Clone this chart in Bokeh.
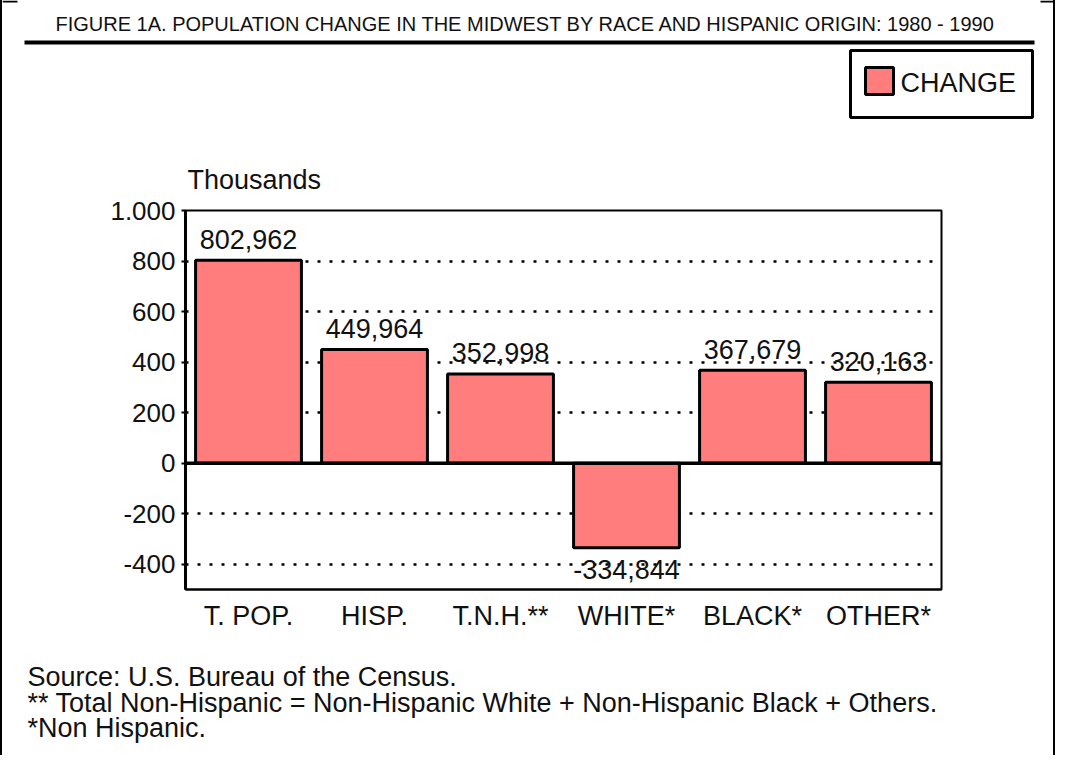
from bokeh.plotting import figure
from bokeh.models import (ColumnDataSource, FixedTicker, Span, Label, BoxAnnotation,
                          FactorRange, Range1d, Div)
from bokeh.layouts import column, row
from bokeh.embed import file_html
from bokeh.resources import INLINE
from bokeh.core.properties import value
import numpy as np

# ---------------- data ----------------
categories = ["T. POP.", "HISP.", "T.N.H.**", "WHITE*", "BLACK*", "OTHER*"]
change = [802.962, 449.964, 352.998, -334.844, 367.679, 320.163]   # thousands
y_ticks = [-400, -200, 0, 200, 400, 600, 800, 1000]
y_tick_labels = ["-400", "-200", "0", "200", "400", "600", "800", "1.000"]
grid_ticks = [-400, -200, 200, 400, 600, 800]
series_name = "CHANGE"
title_text = "FIGURE 1A.  POPULATION CHANGE IN THE MIDWEST BY RACE AND HISPANIC ORIGIN: 1980 - 1990"
y_label = "Thousands"
footnotes = [
    "Source: U.S. Bureau of the Census.",
    "** Total Non-Hispanic = Non-Hispanic White + Non-Hispanic Black + Others.",
    "*Non Hispanic.",
]

FONT = "Liberation Sans"
TXT = "#111111"
BAR_FILL = "#ff7d7d"

W = 1051            # width of each figure (page x 10 .. 1061)
HA, HB, HC = 195, 457, 103


def plain_fig(h):
    f = figure(width=W, height=h, x_range=Range1d(0, W), y_range=Range1d(h, 0),
               x_axis_type=None, y_axis_type=None, title=None,
               output_backend="svg", toolbar_location=None, min_border=0,
               frame_align=False)
    f.outline_line_color = None
    f.grid.visible = False
    f.background_fill_color = "white"
    f.border_fill_color = "white"
    return f


def box(f, x0, x1, y0, y1, fill="black", line=None, lw=1):
    f.add_layout(BoxAnnotation(left=x0, right=x1, top=y0, bottom=y1,
                               fill_color=fill, fill_alpha=1,
                               line_color=line, line_alpha=1, line_width=lw))


def text(f, x, y, s, size, align="left"):
    f.add_layout(Label(x=x, y=y, text=s, text_align=align,
                       text_baseline="middle", text_font=FONT,
                       text_font_size=size, text_color=TXT))


# ---------------- header ----------------
A = plain_fig(HA)
text(A, 526, 23, title_text, "20px", "center")
box(A, 22, 1032, 40, 44)           # rule under title
box(A, 0, 15, 0, 2)                # corner marks
box(A, W - 13, W, 0, 2)
text(A, 185, 179, y_label, "27px")
# legend key
box(A, 848, 1030, 50, 117, fill="white", line="black", lw=3)
box(A, 863, 891, 67, 94, fill=BAR_FILL, line="black", lw=3)
text(A, 898, 82, series_name, "27px")

# ---------------- chart ----------------
FL, FR = 183, 939
TOP, FRAME_H = 15, 379
vals = np.array(change)
src = ColumnDataSource(dict(
    cat=categories,
    val=change,
    lab=[f"{v * 1000:,.0f}" for v in change],
    yoff=np.where(vals >= 0, -21, 22).tolist(),
))

B = figure(x_range=FactorRange(*categories), y_range=(-500, 1000),
           width=W, height=HB, output_backend="svg", toolbar_location=None,
           title=None, min_border_left=FL, min_border_right=W - FR,
           min_border_top=TOP, min_border_bottom=HB - TOP - FRAME_H,
           frame_align=False)
B.x_range.range_padding = 0
B.outline_line_color = "black"
B.outline_line_width = 2
B.background_fill_color = "white"
B.border_fill_color = "white"

B.xgrid.visible = False
B.ygrid.ticker = FixedTicker(ticks=grid_ticks)
B.ygrid.grid_line_color = "black"
B.ygrid.grid_line_width = 2.5
B.ygrid.grid_line_dash = "3 9"

B.yaxis.ticker = FixedTicker(ticks=y_ticks)
B.yaxis.major_label_overrides = {t: l for t, l in zip(y_ticks, y_tick_labels)}
B.yaxis.minor_tick_line_color = None
B.yaxis.major_tick_out = 4
B.yaxis.major_tick_in = 0
B.yaxis.major_tick_line_width = 2
B.yaxis.axis_line_width = 3
B.yaxis.axis_line_color = "black"
B.yaxis.major_label_standoff = 6
B.yaxis.major_label_text_font = FONT
B.yaxis.major_label_text_font_size = "26px"
B.yaxis.major_label_text_color = TXT

B.xaxis.major_tick_line_color = None
B.xaxis.minor_tick_line_color = None
B.xaxis.axis_line_color = "black"
B.xaxis.axis_line_width = 2
B.xaxis.major_label_standoff = 5
B.xaxis.major_label_text_font = FONT
B.xaxis.major_label_text_font_size = "27px"
B.xaxis.major_label_text_color = TXT

B.vbar(x="cat", top="val", bottom=0, width=0.84, source=src,
       fill_color=BAR_FILL, line_color="black", line_width=3)
B.add_layout(Span(location=0, dimension="width", line_color="black", line_width=3.5))
B.text(x="cat", y="val", text="lab", source=src, text_align="center",
       text_baseline="middle", y_offset="yoff",
       text_font=value(FONT), text_font_size="27px", text_color=TXT)

# ---------------- footer ----------------
C = plain_fig(HC)
for txt, cy in zip(footnotes, [24.5, 50, 75.5]):
    text(C, 25, cy, txt, "27px")

# page side borders
left_edge = Div(width=2, height=HA + HB + HC, margin=0,
                styles={"background-color": "black"})
right_edge = Div(width=2, height=HA + HB + HC, margin=0,
                 styles={"background-color": "black"})

page = row(left_edge, column(A, B, C, spacing=0), right_edge, spacing=0)

open("out.html", "w").write(file_html(page, INLINE))
